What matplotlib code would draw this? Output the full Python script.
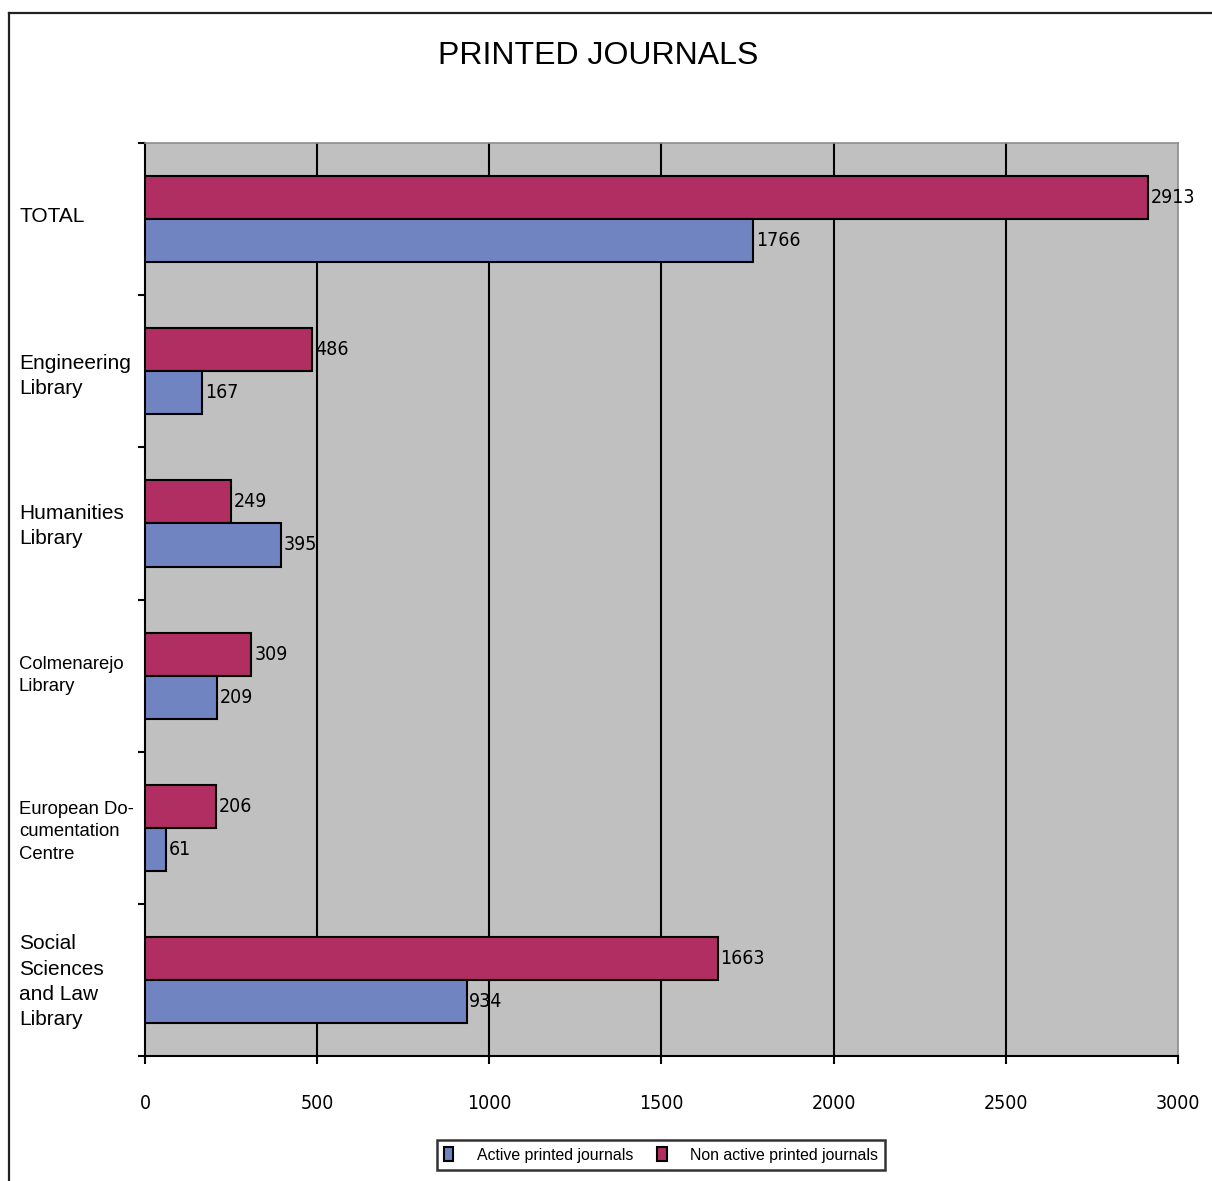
import matplotlib
matplotlib.use("Agg")
import matplotlib.pyplot as plt
from matplotlib.lines import Line2D
from matplotlib.patches import Patch
import matplotlib.transforms as mtransforms

# Printed journal holdings by library
libraries = ["TOTAL", "Engineering\nLibrary", "Humanities\nLibrary",
             "Colmenarejo\nLibrary", "European Do-\ncumentation\nCentre",
             "Social\nSciences\nand Law\nLibrary"]
label_sizes = [15, 15, 15, 13.3, 13.3, 15]
active = [1766, 167, 395, 209, 61, 934]
non_active = [2913, 486, 249, 309, 206, 1663]
x_ticks = [0, 500, 1000, 1500, 2000, 2500, 3000]

RED = "#b02e62"
BLUE = "#7184c2"
plt.rcParams["font.family"] = ["Liberation Sans", "DejaVu Sans"]
NUM = dict(family="DejaVu Sans", fontstretch="condensed", fontsize=14)

fig = plt.figure(figsize=(12.12, 11.81), dpi=100)
ax = fig.add_axes([0.1196, 0.1058, 0.8523, 0.7731])
ax.set_facecolor("#c0c0c0")

pos = list(range(len(libraries)))
h = 0.283
ax.barh([p - h / 2 for p in pos], non_active, height=h, color=RED,
        edgecolor="black", linewidth=1.5, zorder=3)
ax.barh([p + h / 2 for p in pos], active, height=h, color=BLUE,
        edgecolor="black", linewidth=1.5, zorder=3)

for p, v in zip(pos, non_active):
    ax.annotate(str(v), (v, p - h / 2), xytext=(2, 0), textcoords="offset points",
                va="center", ha="left", zorder=4, **NUM)
for p, v in zip(pos, active):
    ax.annotate(str(v), (v, p + h / 2), xytext=(2, 0), textcoords="offset points",
                va="center", ha="left", zorder=4, **NUM)

ax.set_xlim(0, 3000)
ax.set_ylim(len(libraries) - 0.5, -0.5)
ax.set_xticks(x_ticks)
ax.set_xticklabels([str(t) for t in x_ticks], **NUM)
ax.tick_params(axis="x", length=6, width=1.5, pad=21, direction="out")
ax.set_yticks([p - 0.5 for p in pos] + [len(libraries) - 0.5])
ax.set_yticklabels([])
ax.tick_params(axis="y", length=5, width=1.5, direction="out")

for x in x_ticks[1:-1]:
    ax.axvline(x, color="black", linewidth=1.5, zorder=1)

for side in ("left", "bottom"):
    ax.spines[side].set_color("black")
    ax.spines[side].set_linewidth(1.5)
for side in ("top", "right"):
    ax.spines[side].set_color("#8c8c8c")
    ax.spines[side].set_linewidth(1.2)

# category names sit at the left edge of the figure, nudged a little
trans = mtransforms.blended_transform_factory(fig.transFigure, ax.transData)
nudge = [-0.02, 0.03, 0.015, 0.0, 0.025, 0.012]
for p, name, fs, dy in zip(pos, libraries, label_sizes, nudge):
    ax.text(19 / 1212, p + dy, name, transform=trans, ha="left", va="center",
            fontsize=fs, linespacing=1.43)

fig.text(0.4935, 0.9526, "PRINTED JOURNALS", ha="center", va="center", fontsize=23)

# outer frame, cut off at the right and bottom
fig.add_artist(Line2D([9 / 1212, 9 / 1212], [0, 1 - 13 / 1181],
                      transform=fig.transFigure, color="#222222", linewidth=1.6))
fig.add_artist(Line2D([9 / 1212, 1], [1 - 13 / 1181, 1 - 13 / 1181],
                      transform=fig.transFigure, color="#222222", linewidth=1.6))

handles = [Patch(facecolor=BLUE, edgecolor="black", linewidth=1.5),
           Patch(facecolor=RED, edgecolor="black", linewidth=1.5)]
leg = fig.legend(handles, ["Active printed journals", "Non active printed journals"],
                 loc="center", bbox_to_anchor=(661 / 1212, 1 - 1155 / 1181), ncol=2,
                 fontsize=11.4, frameon=True, fancybox=False, handlelength=0.6,
                 handleheight=1.0, handletextpad=1.5, columnspacing=1.5,
                 borderpad=0.45, borderaxespad=0.2)
leg.get_frame().set_edgecolor("black")
leg.get_frame().set_linewidth(1.8)

fig.savefig("out.png", dpi=100)
